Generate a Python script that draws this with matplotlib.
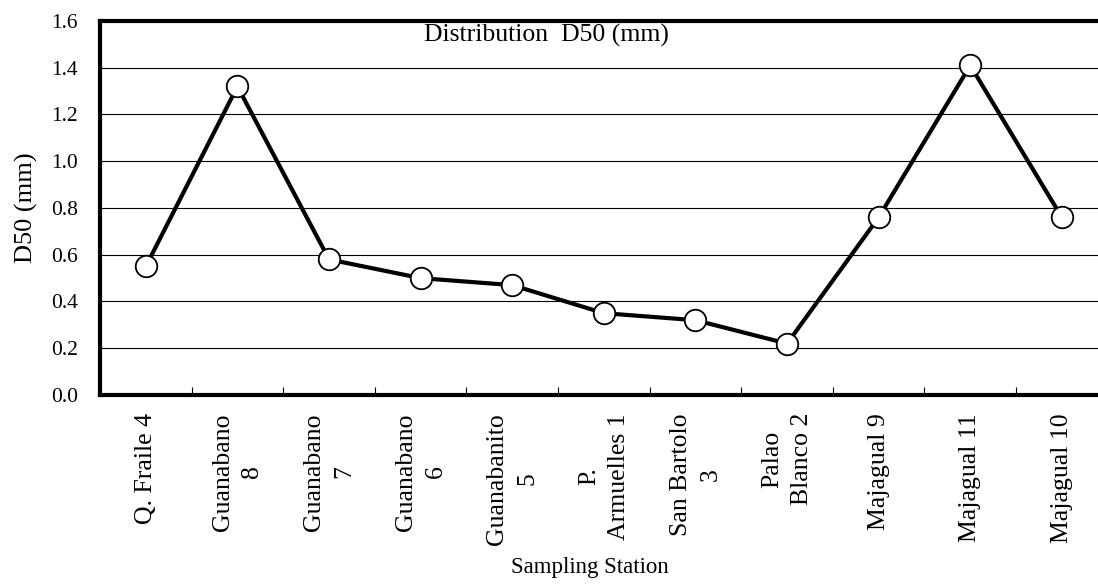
import matplotlib
matplotlib.use("Agg")
import matplotlib.pyplot as plt
import numpy as np

plt.rcParams['font.family'] = ['Liberation Serif', 'DejaVu Serif']

# stations and D50 values (mm)
stations = ['Q. Fraile 4', 'Guanabano\n8', 'Guanabano\n7', 'Guanabano\n6', 'Guanabanito\n5',
            'P.\nArmuelles 1', 'San Bartolo\n3', 'Palao\nBlanco 2', 'Majagual 9',
            'Majagual 11', 'Majagual 10']
d50 = [0.55, 1.32, 0.58, 0.50, 0.47, 0.35, 0.32, 0.22, 0.76, 1.41, 0.76]

fig = plt.figure(figsize=(10.98, 5.85), dpi=100)
ax = fig.add_axes([0.0911, 0.3248, 0.9177, 0.6393])

x = np.arange(len(stations))
ax.plot(x, d50, color='black', linewidth=3, marker='o', markersize=15.5,
        markerfacecolor='white', markeredgecolor='black', markeredgewidth=1.3, zorder=3)

ax.set_xlim(-0.5, len(stations) - 0.5)
ax.set_ylim(0, 1.6)
ax.set_yticks(np.arange(0, 1.61, 0.2))
ax.set_yticklabels(['%.1f' % v for v in np.arange(0, 1.61, 0.2)])
ax.yaxis.grid(True, color='black', linewidth=0.8)
ax.set_axisbelow(True)

ax.set_xticks(x)
ax.set_xticklabels(stations, rotation=90, va='top', ha='center',
                   multialignment='center', linespacing=1.45)
ax.set_xticks(np.arange(0.5, len(stations) - 0.5, 1), minor=True)
ax.tick_params(axis='x', which='major', length=0, pad=13, labelsize=18.5)
ax.tick_params(axis='x', which='minor', direction='in', length=6, width=0.8)
ax.tick_params(axis='y', length=0, pad=16, labelsize=15.5)

for s in ['left', 'bottom', 'top', 'right']:
    ax.spines[s].set_linewidth(3)

ax.text(0.4426, 0.992, 'Distribution  D50 (mm)', transform=ax.transAxes,
        ha='center', va='top', fontsize=18.5)
ax.set_ylabel('D50 (mm)', fontsize=19)
ax.yaxis.set_label_coords(-0.062, 0.5)
fig.text(0.537, 0.03, 'Sampling Station', ha='center', va='center', fontsize=16.5)

fig.savefig('out.png', dpi=100)
